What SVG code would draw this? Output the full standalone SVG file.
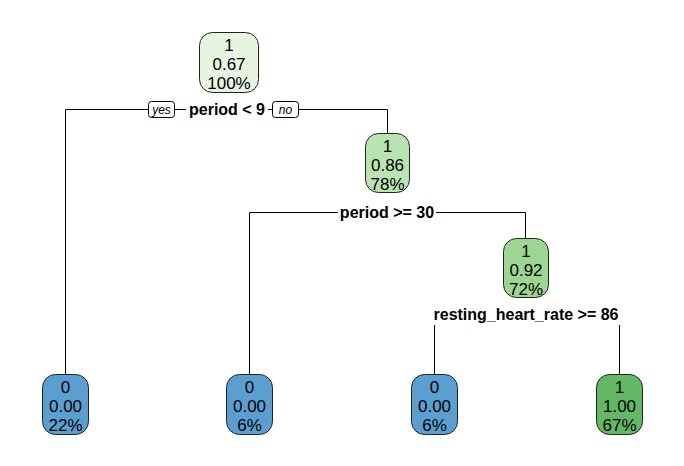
<svg xmlns="http://www.w3.org/2000/svg" width="684" height="466" viewBox="0 0 684 466">
<style>
.node rect{stroke:#222;stroke-width:1}
.nt{font-family:"Liberation Sans",Arial,sans-serif;font-size:17px;text-anchor:middle;fill:#000}
.lbl{font-family:"Liberation Sans",Arial,sans-serif;font-size:16px;font-weight:bold;text-anchor:middle;fill:#000}
.yn{font-family:"Liberation Sans",Arial,sans-serif;font-size:12px;font-style:italic;text-anchor:middle;fill:#000}
.ln{stroke:#000;stroke-width:1;fill:none}
</style>
<rect width="684" height="466" fill="#fff"/>
<g id="connectors">
<path class="ln" d="M65.5,374 V109.5 H387.5 V133"/>
<path class="ln" d="M249.5,374 V212.5 H525.5 V238"/>
<path class="ln" d="M434.5,374 V325"/>
<path class="ln" d="M619.5,374 V325"/>
<rect x="186" y="100" width="82" height="19" fill="#fff"/>
<rect x="338" y="203" width="98" height="19" fill="#fff"/>
<rect x="148.5" y="101.5" width="26" height="16" rx="3" fill="#fff" stroke="#000"/>
<text class="yn" x="161.5" y="113.5">yes</text>
<rect x="272.5" y="101.5" width="26" height="16" rx="3" fill="#fff" stroke="#000"/>
<text class="yn" x="285.5" y="113.5">no</text>
<text class="lbl" x="227" y="115">period &lt; 9</text>
<text class="lbl" x="387" y="218">period &gt;= 30</text>
<text class="lbl" x="526" y="320">resting_heart_rate &gt;= 86</text>
</g>
<g id="n1" class="node">
<rect x="199.5" y="32.5" width="59" height="60" rx="13" fill="#e5f5e0"/>
<text class="nt" x="229" y="51">1</text><text class="nt" x="229" y="70">0.67</text><text class="nt" x="229" y="89">100%</text>
</g>
<g id="n2" class="node">
<rect x="365.5" y="133.5" width="44" height="59" rx="13" fill="#b9e3b1"/>
<text class="nt" x="387.5" y="152">1</text><text class="nt" x="387.5" y="171">0.86</text><text class="nt" x="387.5" y="190">78%</text>
</g>
<g id="n3" class="node">
<rect x="503.5" y="238.5" width="45" height="59" rx="13" fill="#9cd692"/>
<text class="nt" x="526" y="257">1</text><text class="nt" x="526" y="276">0.92</text><text class="nt" x="526" y="295">72%</text>
</g>
<g id="leaf1" class="node">
<rect x="42.5" y="374.5" width="46" height="60" rx="13" fill="#5a9fcf"/>
<text class="nt" x="65.5" y="393">0</text><text class="nt" x="65.5" y="412">0.00</text><text class="nt" x="65.5" y="431">22%</text>
</g>
<g id="leaf2" class="node">
<rect x="226.5" y="374.5" width="46" height="60" rx="13" fill="#5a9fcf"/>
<text class="nt" x="249.5" y="393">0</text><text class="nt" x="249.5" y="412">0.00</text><text class="nt" x="249.5" y="431">6%</text>
</g>
<g id="leaf3" class="node">
<rect x="411.5" y="374.5" width="46" height="60" rx="13" fill="#5a9fcf"/>
<text class="nt" x="434.5" y="393">0</text><text class="nt" x="434.5" y="412">0.00</text><text class="nt" x="434.5" y="431">6%</text>
</g>
<g id="leaf4" class="node">
<rect x="596.5" y="374.5" width="46" height="60" rx="13" fill="#63b863"/>
<text class="nt" x="619.5" y="393">1</text><text class="nt" x="619.5" y="412">1.00</text><text class="nt" x="619.5" y="431">67%</text>
</g>
</svg>
